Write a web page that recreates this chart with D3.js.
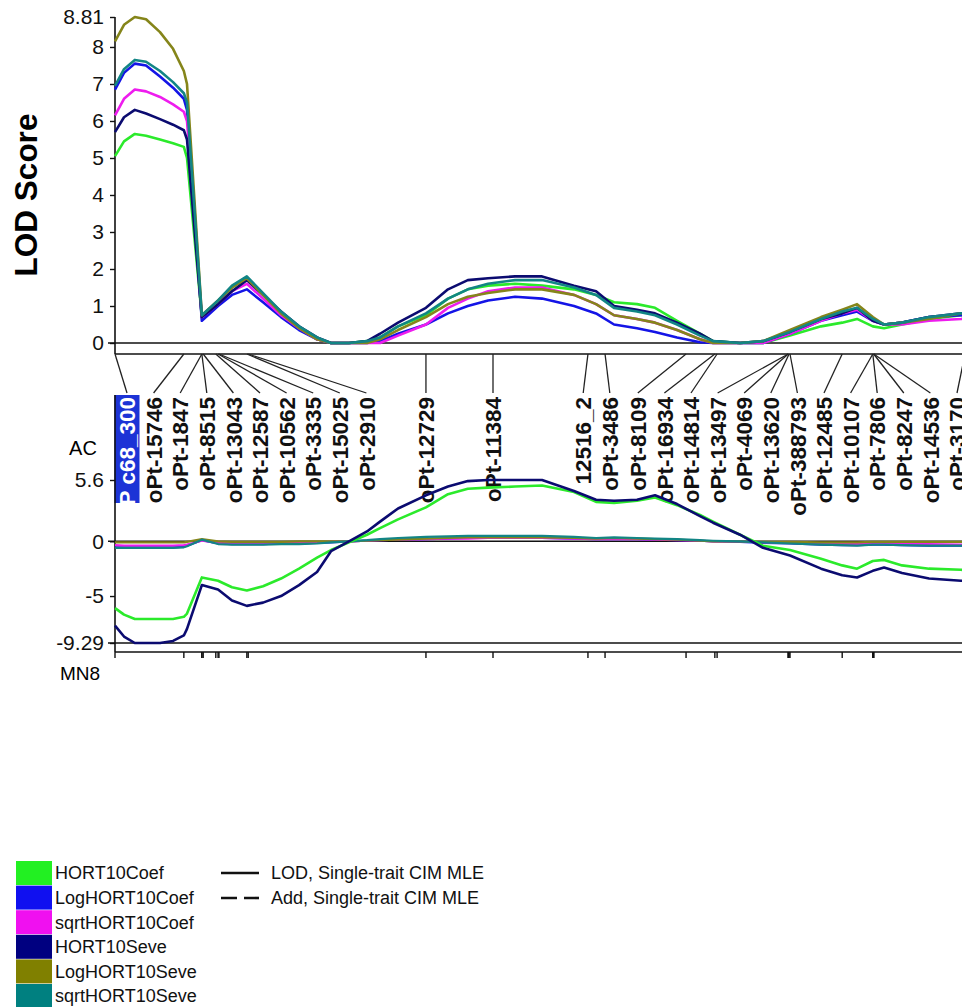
<!DOCTYPE html>
<html>
<head>
<meta charset="utf-8">
<script src="https://cdn.jsdelivr.net/npm/d3@7/dist/d3.min.js"></script>
<style>
body { margin: 0; background: #fff; }
text { font-family: "Liberation Sans", Arial, sans-serif; }
</style>
</head>
<body>
<svg id="main_svg" width="962" height="1007"></svg>
<script>
// map positions (cM) where the curves were read
var positions = [0, 2, 4.4, 6.9, 10, 12.9, 15.3, 16, 19.3, 22.9,
    26, 29.3, 32.9, 36.9, 40.9, 44.9, 48, 52, 56, 58.9,
    62.9, 69.1, 74, 78.4, 82.9, 88.9, 94.9, 102, 106.9, 110.9,
    116, 120, 124.9, 130, 132.9, 138.9, 144, 150, 156.9, 161.6,
    164.9, 168.4, 170.9, 174.9, 180.9, 188, 192];

var traits = ["HORT10Coef", "LogHORT10Coef", "sqrtHORT10Coef", "HORT10Seve", "LogHORT10Seve", "sqrtHORT10Seve"];

// LOD, single-trait CIM
var lodHORT10Coef = [5.05, 5.45, 5.65, 5.6, 5.5, 5.4, 5.3, 5.0, 0.7, 1.1,
    1.5, 1.75, 1.3, 0.8, 0.4, 0.1, 0, 0, 0.05, 0.15,
    0.45, 0.75, 1.2, 1.45, 1.55, 1.6, 1.55, 1.45, 1.3, 1.1,
    1.05, 0.95, 0.6, 0.25, 0.05, 0, 0, 0.2, 0.45, 0.55,
    0.65, 0.45, 0.4, 0.5, 0.65, 0.75, 0.8];
var lodLogHORT10Coef = [6.85, 7.3, 7.55, 7.5, 7.2, 6.9, 6.6, 6.3, 0.6, 1.0,
    1.3, 1.45, 1.1, 0.7, 0.35, 0.1, 0, 0, 0, 0.05,
    0.25, 0.5, 0.8, 1.0, 1.15, 1.25, 1.2, 1.0, 0.8, 0.5,
    0.4, 0.3, 0.15, 0.02, 0, 0, 0, 0.25, 0.6, 0.75,
    0.85, 0.6, 0.5, 0.55, 0.7, 0.75, 0.8];
var lodSqrtHORT10Coef = [6.15, 6.6, 6.85, 6.8, 6.65, 6.45, 6.25, 6.0, 0.7, 1.05,
    1.4, 1.6, 1.2, 0.75, 0.4, 0.1, 0, 0, 0, 0,
    0.2, 0.5, 0.95, 1.2, 1.4, 1.5, 1.5, 1.3, 1.05, 0.75,
    0.65, 0.55, 0.35, 0.1, 0, 0, 0, 0.25, 0.6, 0.8,
    0.9, 0.6, 0.5, 0.5, 0.6, 0.65, 0.7];
var lodHORT10Seve = [5.7, 6.1, 6.3, 6.2, 6.05, 5.9, 5.75, 5.5, 0.7, 1.05,
    1.4, 1.7, 1.3, 0.85, 0.45, 0.15, 0, 0, 0.05, 0.25,
    0.55, 0.95, 1.45, 1.7, 1.75, 1.8, 1.8, 1.55, 1.4, 1.0,
    0.9, 0.8, 0.55, 0.25, 0.05, 0, 0.05, 0.3, 0.65, 0.8,
    0.95, 0.6, 0.5, 0.55, 0.7, 0.8, 0.85];
var lodLogHORT10Seve = [8.15, 8.6, 8.81, 8.75, 8.4, 7.95, 7.35, 7.0, 0.75, 1.15,
    1.5, 1.75, 1.3, 0.8, 0.4, 0.1, 0, 0, 0, 0.1,
    0.35, 0.7, 1.05, 1.25, 1.35, 1.45, 1.45, 1.3, 1.05, 0.75,
    0.65, 0.55, 0.35, 0.1, 0, 0, 0.05, 0.35, 0.7, 0.9,
    1.05, 0.7, 0.5, 0.55, 0.65, 0.8, 0.85];
var lodSqrtHORT10Seve = [6.95, 7.4, 7.65, 7.6, 7.35, 7.05, 6.75, 6.5, 0.75, 1.15,
    1.55, 1.8, 1.35, 0.85, 0.45, 0.15, 0, 0, 0.05, 0.15,
    0.45, 0.8, 1.2, 1.45, 1.6, 1.7, 1.7, 1.5, 1.3, 0.95,
    0.85, 0.75, 0.5, 0.2, 0.05, 0, 0.05, 0.3, 0.65, 0.85,
    0.95, 0.65, 0.5, 0.55, 0.7, 0.8, 0.85];

// additive effects
var addHORT10Coef = [-6.1, -6.7, -7.1, -7.1, -7.1, -7.1, -6.9, -6.6, -3.3, -3.6,
    -4.2, -4.5, -4.1, -3.4, -2.5, -1.5, -0.8, -0.1, 0.6, 1.2,
    2.0, 3.1, 4.3, 4.8, 4.9, 5.0, 5.1, 4.5, 3.6, 3.5,
    3.7, 4.0, 3.3, 2.4, 1.8, 0.6, -0.4, -0.8, -1.6, -2.2,
    -2.5, -1.8, -1.7, -2.2, -2.5, -2.6, -2.7];
var addLogHORT10Coef = [-0.55, -0.55, -0.55, -0.55, -0.55, -0.55, -0.5, -0.4, 0.1, -0.2,
    -0.25, -0.25, -0.25, -0.2, -0.2, -0.15, -0.1, 0, 0.05, 0.1,
    0.15, 0.2, 0.25, 0.3, 0.3, 0.3, 0.3, 0.25, 0.2, 0.2,
    0.2, 0.15, 0.1, 0.05, 0, -0.05, -0.15, -0.2, -0.3, -0.35,
    -0.35, -0.3, -0.3, -0.35, -0.4, -0.4, -0.4];
var addSqrtHORT10Coef = [-0.35, -0.4, -0.4, -0.4, -0.4, -0.4, -0.35, -0.3, 0.05, -0.15,
    -0.2, -0.2, -0.2, -0.15, -0.15, -0.1, -0.05, 0, 0.05, 0.1,
    0.15, 0.2, 0.25, 0.25, 0.3, 0.3, 0.3, 0.25, 0.2, 0.2,
    0.2, 0.15, 0.1, 0.05, 0, 0, -0.1, -0.15, -0.2, -0.25,
    -0.25, -0.2, -0.2, -0.25, -0.25, -0.3, -0.3];
var addHORT10Seve = [-7.7, -8.7, -9.29, -9.29, -9.29, -9.1, -8.6, -8.0, -4.0, -4.4,
    -5.4, -5.9, -5.6, -5.0, -4.0, -2.8, -0.9, 0, 0.9, 1.8,
    3.0, 4.2, 5.0, 5.5, 5.6, 5.6, 5.6, 4.6, 3.8, 3.7,
    3.8, 4.2, 3.4, 2.3, 1.7, 0.6, -0.6, -1.3, -2.5, -3.1,
    -3.3, -2.7, -2.4, -2.9, -3.4, -3.6, -3.7];
var addLogHORT10Seve = [-0.1, -0.1, -0.1, -0.1, -0.1, -0.1, -0.1, -0.05, 0.2, 0,
    -0.05, -0.05, -0.05, -0.05, 0, 0, 0, 0, 0.05, 0.1,
    0.15, 0.25, 0.3, 0.35, 0.35, 0.35, 0.35, 0.3, 0.25, 0.3,
    0.25, 0.2, 0.15, 0.05, 0, 0, -0.05, -0.05, -0.1, -0.1,
    -0.1, -0.05, -0.05, -0.05, -0.05, -0.05, -0.05];
var addSqrtHORT10Seve = [-0.6, -0.6, -0.6, -0.6, -0.6, -0.6, -0.55, -0.45, 0.15, -0.25,
    -0.3, -0.3, -0.3, -0.25, -0.25, -0.2, -0.1, 0, 0.1, 0.2,
    0.3, 0.4, 0.45, 0.5, 0.5, 0.5, 0.5, 0.4, 0.3, 0.35,
    0.3, 0.25, 0.2, 0.1, 0.05, 0, -0.1, -0.2, -0.3, -0.35,
    -0.4, -0.3, -0.3, -0.35, -0.4, -0.4, -0.45];

// markers on MN8
var markerNames = ["P c68_300", "oPt-15746", "oPt-1847", "oPt-8515", "oPt-13043", "oPt-12587",
    "oPt-10562", "oPt-3335", "oPt-15025", "oPt-2910", "oPt-12729", "oPt-11384", "12516_2",
    "oPt-3486", "oPt-8109", "oPt-16934", "oPt-14814", "oPt-13497", "oPt-4069", "oPt-13620",
    "oPt-388793", "oPt-12485", "oPt-10107", "oPt-7806", "oPt-8247", "oPt-14536", "oPt-3170"];
var markerPos = [0, 15.3, 19.3, 19.3, 19.6, 22.4,
    22.9, 23.1, 29.3, 29.6, 69.1, 84.0, 105.1,
    108.9, 126.9, 133.3, 133.8, 149.6, 149.6, 149.8,
    150.0, 161.6, 168.4, 168.4, 168.6, 168.6, 188.9];

var lodTicks = [0, 1, 2, 3, 4, 5, 6, 7, 8, 8.81];
var addTicks = [5.6, 0, -5, -9.29];

var traitColors = ["#2bea2b", "#1414e6", "#ee1cee", "#0b0b70", "#85851a", "#128585"];
var swatchColors = ["#22f022", "#1010f0", "#f010f0", "#000080", "#808000", "#008080"];

var lodSeries = [lodHORT10Coef, lodLogHORT10Coef, lodSqrtHORT10Coef, lodHORT10Seve, lodLogHORT10Seve, lodSqrtHORT10Seve];
var addSeries = [addHORT10Coef, addLogHORT10Coef, addSqrtHORT10Coef, addHORT10Seve, addLogHORT10Seve, addSqrtHORT10Seve];

var svg = d3.select("#main_svg");
var x = d3.scaleLinear().domain([0, 190]).range([115, 970]);
var yLod = d3.scaleLinear().domain([0, 8.81]).range([343, 17]);
var yAdd = d3.scaleLinear().domain([-9.29, 5.6]).range([643, 480]);

function hline(y, x1, x2) {
    svg.append("line")
        .attr("x1", x1).attr("x2", x2)
        .attr("y1", y).attr("y2", y)
        .attr("stroke", "#111").attr("stroke-width", 1.6);
}

function vline(xv, y1, y2) {
    svg.append("line")
        .attr("x1", xv).attr("x2", xv)
        .attr("y1", y1).attr("y2", y2)
        .attr("stroke", "#111").attr("stroke-width", 1.6);
}

function styleAxis(g) {
    g.select(".domain").remove();
    g.selectAll(".tick line").attr("stroke", "#111").attr("stroke-width", 1.4);
    g.selectAll(".tick text")
        .attr("font-size", 21)
        .attr("font-family", "'Liberation Sans', Arial, sans-serif")
        .attr("fill", "#111");
}

// ---- top panel: LOD score ----
svg.append("g")
    .attr("transform", "translate(115,0)")
    .call(d3.axisLeft(yLod).tickValues(lodTicks).tickSize(5).tickPadding(6)
        .tickFormat(function(d) { return d == 8.81 ? "8.81" : d; }))
    .call(styleAxis);

vline(115, yLod(8.81), 354);
hline(yLod(0), 108, 970);
hline(354, 115, 970);

svg.append("text")
    .attr("transform", "translate(26," + 195 + ") rotate(-90)")
    .attr("text-anchor", "middle")
    .attr("dy", "0.36em")
    .attr("font-size", 31.5)
    .attr("font-weight", "bold")
    .text("LOD Score");

var lodLine = d3.line()
    .x(function(d, i) { return x(positions[i]); })
    .y(function(d) { return yLod(d); });

svg.append("g")
    .selectAll("path")
    .data(lodSeries)
    .enter()
    .append("path")
    .attr("d", lodLine)
    .attr("fill", "none")
    .attr("stroke", function(d, i) { return traitColors[i]; })
    .attr("stroke-width", 2.6)
    .attr("stroke-linejoin", "round");

// ---- marker labels ----
// spread labels apart, merging crowded ones into centred groups
function layoutLabels(xs, gap, lo, hi) {
    var groups = xs.map(function(v) { return {sum: v, n: 1, start: v}; });
    var changed = true;
    while (changed) {
        changed = false;
        groups.forEach(function(g) {
            var s = g.sum / g.n - (g.n - 1) * gap / 2;
            g.start = Math.max(lo, Math.min(hi - (g.n - 1) * gap, s));
        });
        for (var i = 1; i < groups.length; i++) {
            var prev = groups[i - 1], g = groups[i];
            if (g.start < prev.start + prev.n * gap - 0.01) {
                prev.sum += g.sum;
                prev.n += g.n;
                groups.splice(i, 1);
                changed = true;
                break;
            }
        }
    }
    var out = [];
    groups.forEach(function(g) {
        for (var k = 0; k < g.n; k++) out.push(g.start + k * gap);
    });
    return out;
}

var markerX = markerPos.map(function(d) { return x(d); });
var labelX = layoutLabels(markerX, 26.6, 127, 957);

var markers = svg.append("g").attr("id", "markers");

markers.selectAll("line")
    .data(markerNames)
    .enter()
    .append("line")
    .attr("x1", function(d, i) { return markerX[i]; })
    .attr("y1", 354)
    .attr("x2", function(d, i) { return labelX[i]; })
    .attr("y2", 393)
    .attr("stroke", "#222")
    .attr("stroke-width", 1.3);

// highlighted first marker
markers.append("rect")
    .attr("x", labelX[0] - 12.5)
    .attr("y", 395)
    .attr("width", 25)
    .attr("height", 108)
    .attr("fill", "#1c33d6");

markers.selectAll("text")
    .data(markerNames)
    .enter()
    .append("text")
    .attr("transform", function(d, i) { return "translate(" + labelX[i] + ",397) rotate(-90)"; })
    .attr("text-anchor", "end")
    .attr("dy", "0.36em")
    .attr("font-size", 22.5)
    .attr("font-weight", "bold")
    .attr("fill", function(d, i) { return i == 0 ? "#fff" : "#111"; })
    .text(function(d) { return d; });

// ---- bottom panel: additive effect ----
svg.append("g")
    .attr("transform", "translate(115,0)")
    .call(d3.axisLeft(yAdd).tickValues(addTicks).tickSize(5).tickPadding(6)
        .tickFormat(function(d) { return d; }))
    .call(styleAxis);

vline(115, 395, 652);
hline(yAdd(0), 108, 970);
hline(yAdd(-9.29), 108, 970);
hline(652, 115, 970);

svg.append("g")
    .selectAll("line")
    .data(markerPos)
    .enter()
    .append("line")
    .attr("x1", function(d) { return x(d); })
    .attr("x2", function(d) { return x(d); })
    .attr("y1", 652)
    .attr("y2", 658)
    .attr("stroke", "#111")
    .attr("stroke-width", 1.4);

svg.append("text")
    .attr("x", 83).attr("y", 448)
    .attr("dy", "0.36em")
    .attr("text-anchor", "middle")
    .attr("font-size", 20)
    .text("AC");

svg.append("text")
    .attr("x", 60).attr("y", 673)
    .attr("dy", "0.36em")
    .attr("font-size", 19)
    .text("MN8");

var addLine = d3.line()
    .x(function(d, i) { return x(positions[i]); })
    .y(function(d) { return yAdd(d); });

// small effects first, the two large curves on top
var addOrder = [1, 2, 4, 5, 0, 3];
svg.append("g")
    .selectAll("path")
    .data(addOrder)
    .enter()
    .append("path")
    .attr("d", function(k) { return addLine(addSeries[k]); })
    .attr("fill", "none")
    .attr("stroke", function(k) { return traitColors[k]; })
    .attr("stroke-width", function(k) { return (k == 0 || k == 3) ? 2.6 : 2.2; })
    .attr("stroke-linejoin", "round");

// ---- legend ----
var legend = svg.append("g").attr("id", "legend");

legend.selectAll("rect")
    .data(traits)
    .enter()
    .append("rect")
    .attr("x", 16)
    .attr("y", function(d, i) { return 861 + i * 24.6; })
    .attr("width", 36)
    .attr("height", 24)
    .attr("fill", function(d, i) { return swatchColors[i]; });

legend.selectAll("text")
    .data(traits)
    .enter()
    .append("text")
    .attr("x", 55)
    .attr("y", function(d, i) { return 873 + i * 24.6; })
    .attr("dy", "0.36em")
    .attr("font-size", 18)
    .attr("fill", "#111")
    .text(function(d) { return d; });

legend.append("line")
    .attr("x1", 221).attr("x2", 259)
    .attr("y1", 873).attr("y2", 873)
    .attr("stroke", "#111").attr("stroke-width", 2.6);

legend.append("line")
    .attr("x1", 221).attr("x2", 259)
    .attr("y1", 898).attr("y2", 898)
    .attr("stroke", "#111").attr("stroke-width", 2.6)
    .attr("stroke-dasharray", "16,7");

legend.append("text")
    .attr("x", 271).attr("y", 873)
    .attr("dy", "0.36em")
    .attr("font-size", 18)
    .attr("fill", "#111")
    .text("LOD, Single-trait CIM MLE");

legend.append("text")
    .attr("x", 271).attr("y", 898)
    .attr("dy", "0.36em")
    .attr("font-size", 18)
    .attr("fill", "#111")
    .text("Add, Single-trait CIM MLE");
</script>
</body>
</html>
